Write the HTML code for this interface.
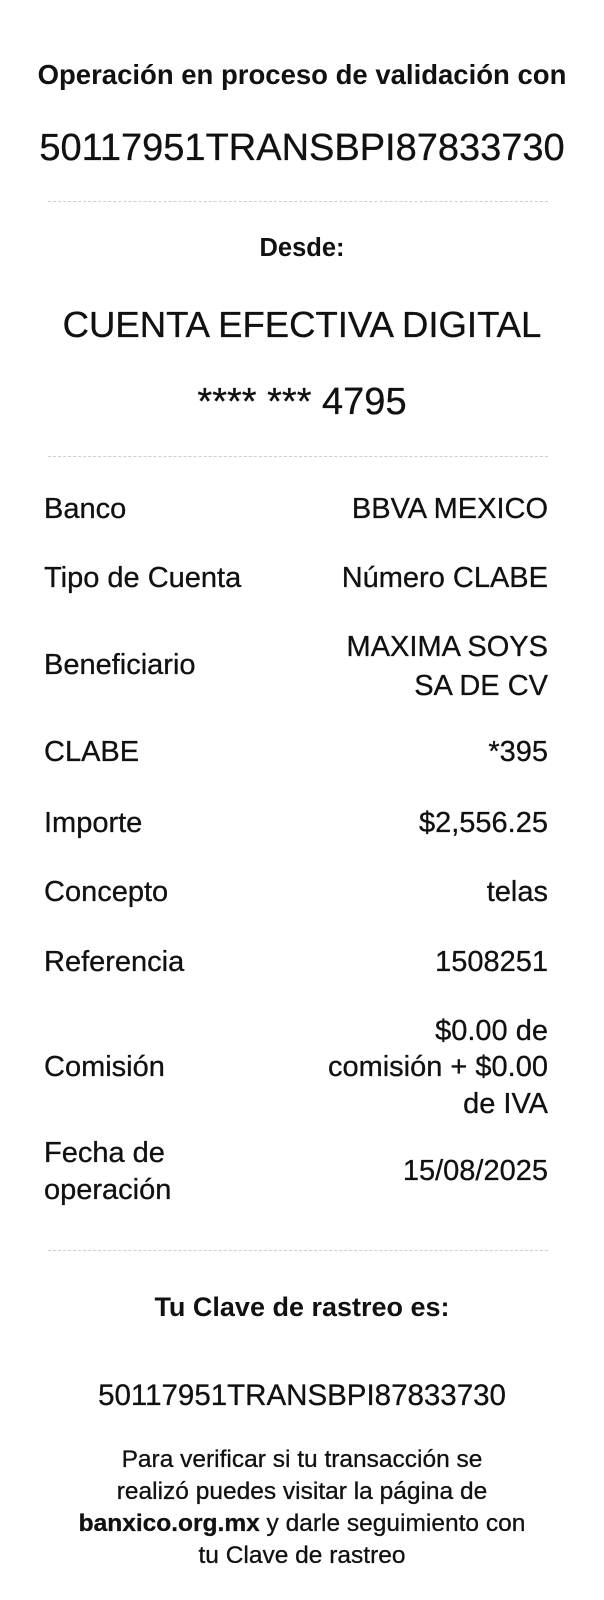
<!DOCTYPE html>
<html><head><meta charset="utf-8"><style>
body{margin:0;width:604px;height:1600px;background:#fff;position:relative;overflow:hidden;font-family:"Liberation Sans",sans-serif;color:#111}
.t{position:absolute;height:40px;line-height:40px;white-space:nowrap;-webkit-text-stroke:0.3px #111}
.c{left:0;width:604px;text-align:center}
.l{left:44px}
.r{right:56px;text-align:right}
.b{font-weight:bold;-webkit-text-stroke:0}
.h{position:absolute;left:48px;width:500px;border-top:1px dashed #cfcfcf;height:0}
.s{font-size:29px}
</style></head><body>
<div class="t c b" style="top:55px;font-size:27.5px">Operación en proceso de validación con</div>
<div class="t c" style="top:128px;font-size:38px">50117951TRANSBPI87833730</div>
<div class="h" style="top:201px"></div>
<div class="t c b" style="top:228px;font-size:25.5px">Desde:</div>
<div class="t c" style="top:305px;font-size:36.5px">CUENTA EFECTIVA DIGITAL</div>
<div class="t c" style="top:382px;font-size:38px">**** *** 4795</div>
<div class="h" style="top:456px"></div>

<div class="t l s" style="top:489px">Banco</div>
<div class="t r s" style="top:489px">BBVA MEXICO</div>
<div class="t l s" style="top:558px">Tipo de Cuenta</div>
<div class="t r s" style="top:558px">Número CLABE</div>
<div class="t l s" style="top:645px">Beneficiario</div>
<div class="t r s" style="top:627px">MAXIMA SOYS</div>
<div class="t r s" style="top:666px">SA DE CV</div>
<div class="t l s" style="top:732px">CLABE</div>
<div class="t r s" style="top:732px">*395</div>
<div class="t l s" style="top:803px">Importe</div>
<div class="t r s" style="top:803px">$2,556.25</div>
<div class="t l s" style="top:872px">Concepto</div>
<div class="t r s" style="top:872px">telas</div>
<div class="t l s" style="top:942px">Referencia</div>
<div class="t r s" style="top:942px">1508251</div>
<div class="t l s" style="top:1047px">Comisión</div>
<div class="t r s" style="top:1011px">$0.00 de</div>
<div class="t r s" style="top:1047px">comisión + $0.00</div>
<div class="t r s" style="top:1084px">de IVA</div>
<div class="t l s" style="top:1133px">Fecha de</div>
<div class="t l s" style="top:1170px">operación</div>
<div class="t r s" style="top:1151px">15/08/2025</div>

<div class="h" style="top:1250px"></div>
<div class="t c b" style="top:1287px;font-size:27px">Tu Clave de rastreo es:</div>
<div class="t c" style="top:1376px;font-size:29.5px">50117951TRANSBPI87833730</div>
<div class="t c" style="top:1440px;font-size:24.5px">Para verificar si tu transacción se</div>
<div class="t c" style="top:1472px;font-size:24.5px">realizó puedes visitar la página de</div>
<div class="t c" style="top:1504px;font-size:24.5px"><b>banxico.org.mx</b> y darle seguimiento con</div>
<div class="t c" style="top:1536px;font-size:24.5px">tu Clave de rastreo</div>
</body></html>
